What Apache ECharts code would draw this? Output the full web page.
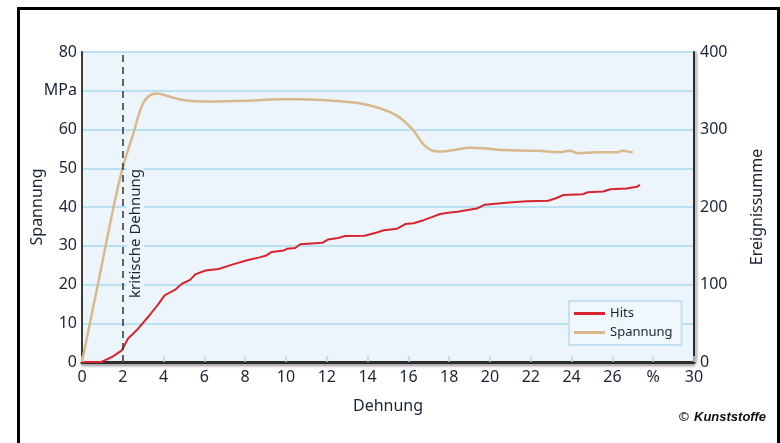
<!DOCTYPE html>
<html>
<head>
<meta charset="utf-8">
<script src="https://cdn.jsdelivr.net/npm/echarts@6/dist/echarts.min.js"></script>
<style>
  html, body { margin: 0; padding: 0; background: #fff; }
  #wrap { position: relative; width: 780px; height: 443px; overflow: hidden; }
  #chart { position: absolute; left: 0; top: 0; width: 780px; height: 443px; }
  #frame { position: absolute; left: 17px; top: 7px; width: 763px; height: 460px;
           box-sizing: border-box; border: 3px solid #000; pointer-events: none; }
</style>
</head>
<body>
<div id="wrap">
  <div id="chart"></div>
  <div id="frame"></div>
</div>
<script>
// Strain axis (Dehnung, %) tick labels; 28 is shown as the unit sign
const xTickLabels = ['0', '2', '4', '6', '8', '10', '12', '14', '16', '18', '20', '22', '24', '26', '%', '30'];
// Stress axis (Spannung) tick labels; 70 is shown as the unit
const stressTickLabels = ['0', '10', '20', '30', '40', '50', '60', 'MPa', '80'];
// Cumulative event axis (Ereignissumme) tick labels
const hitsTickLabels = ['0', '100', '200', '300', '400'];

// Critical strain marker
const criticalStrain = 2;

// Hits: cumulative acoustic emission events vs. strain
const hitsStrain = [0, 0.5, 0.95, 1.5, 1.95, 2.25, 2.75, 3.3, 3.75, 4.05, 4.55, 4.9, 5.3, 5.55, 6.05, 6.7, 7.4, 8.05, 8.7, 9.0, 9.3, 9.9, 10.05, 10.45, 10.7, 11.8, 12.05, 12.55, 12.9, 13.85, 14.45, 14.8, 15.45, 15.85, 16.25, 16.75, 17.15, 17.55, 18.05, 18.4, 19.35, 19.75, 20.8, 21.8, 22.85, 23.2, 23.6, 24.55, 24.8, 25.55, 25.9, 26.7, 27.2, 27.35];
const hitsValues = [0, 0, 0, 7, 15, 30, 43, 60, 75, 86, 93, 101, 106, 113, 118, 120, 126, 131, 135, 137, 142, 144, 146, 147, 152, 154, 158, 160, 162.5, 163, 167, 170, 172, 178, 179, 183, 187, 191, 193, 194, 198, 203, 205.5, 207.5, 208, 211, 215.5, 216.5, 219, 220, 223, 224, 226, 228.5];

// Spannung: stress vs. strain
const stressStrain = [0, 0.8, 1.62, 2.03, 2.52, 2.92, 3.25, 3.66, 4.23, 4.97, 6.1, 8.1, 9.7, 10.7, 11.5, 12.3, 13.6, 14.6, 15.4, 15.9, 16.3, 16.7, 17.1, 17.55, 18.2, 19.0, 19.8, 20.6, 22.3, 23.4, 23.9, 24.3, 25.2, 26.2, 26.5, 27.0];
const stressValues = [0, 20.6, 41.8, 50.8, 59, 65.9, 68.5, 69.3, 68.6, 67.6, 67.2, 67.4, 67.8, 67.8, 67.7, 67.4, 66.8, 65.5, 63.7, 61.6, 59.4, 56.4, 54.7, 54.3, 54.7, 55.3, 55.1, 54.7, 54.5, 54.1, 54.5, 53.9, 54.1, 54.1, 54.5, 54.1];

const pairs = (xs, ys) => xs.map((x, i) => [x, ys[i]]);

const FONT = '"Noto Sans", "Open Sans", sans-serif';
const TEXT = '#1b2336';
const PLOT_BG = '#EDF5FC';
const GRID_LINE = '#A8D9F1';

const chart = echarts.init(document.getElementById('chart'), null, { renderer: 'canvas' });

chart.setOption({
  animation: false,
  textStyle: { fontFamily: FONT },
  grid: {
    left: 82, right: 86, top: 52, bottom: 81,
    show: true, backgroundColor: PLOT_BG, borderWidth: 0,
    containLabel: false
  },
  title: {
    text: '{c|©} {k|Kunststoffe}',
    right: 9, bottom: 12,
    textStyle: {
      rich: {
        c: { fontSize: 13, color: '#333', fontFamily: FONT },
        k: { fontSize: 13, fontWeight: 'bold', fontStyle: 'italic', color: '#111', fontFamily: '"Liberation Sans", Arial, sans-serif' }
      }
    }
  },
  legend: {
    data: ['Hits', 'Spannung'],
    orient: 'vertical',
    left: 569, top: 301,
    padding: [6, 9, 6, 5],
    itemGap: 6,
    itemWidth: 31, itemHeight: 3,
    icon: 'rect',
    backgroundColor: '#F0F7FD',
    borderColor: '#C4E1F3',
    borderWidth: 2,
    textStyle: { fontSize: 13, color: TEXT, fontFamily: FONT }
  },
  xAxis: {
    type: 'value',
    min: 0, max: 30, interval: 2,
    name: 'Dehnung',
    nameLocation: 'middle',
    nameGap: 36,
    nameTextStyle: { fontSize: 16, color: TEXT },
    axisLine: { show: true, onZero: false, lineStyle: { color: '#2e2e2e', width: 3, shadowColor: 'rgba(0,0,0,0.45)', shadowBlur: 3, shadowOffsetY: 2 } },
    axisTick: { show: true, inside: true, length: 6, lineStyle: { color: GRID_LINE, width: 1.5 } },
    axisLabel: {
      margin: 7, fontSize: 16, color: TEXT,
      formatter: v => xTickLabels[Math.round(v / 2)]
    },
    splitLine: { show: false }
  },
  yAxis: [
    {
      type: 'value',
      min: 0, max: 80, interval: 10,
      name: 'Spannung',
      nameLocation: 'middle',
      nameRotate: 90,
      nameGap: 37,
      nameMoveOverlap: false,
      nameTextStyle: { fontSize: 16, color: TEXT },
      axisLine: { show: true, lineStyle: { color: '#3a3a3a', width: 2 } },
      axisTick: { show: false },
      axisLabel: {
        margin: 5, fontSize: 16, color: TEXT,
        formatter: v => stressTickLabels[Math.round(v / 10)]
      },
      splitLine: { show: true, lineStyle: { color: GRID_LINE, width: 1.5 } }
    },
    {
      type: 'value',
      position: 'right',
      min: 0, max: 400, interval: 100,
      name: 'Ereignissumme',
      nameLocation: 'middle',
      nameRotate: 90,
      nameGap: 55,
      nameTextStyle: { fontSize: 16, color: TEXT },
      axisLine: { show: true, lineStyle: { color: '#2e2e2e', width: 2, shadowColor: 'rgba(0,0,0,0.45)', shadowBlur: 3, shadowOffsetX: 2 } },
      axisTick: { show: false },
      axisLabel: {
        margin: 6, fontSize: 16, color: TEXT,
        formatter: v => hitsTickLabels[Math.round(v / 100)]
      },
      splitLine: { show: false }
    }
  ],
  series: [
    {
      name: 'Hits',
      type: 'line',
      yAxisIndex: 1,
      data: pairs(hitsStrain, hitsValues),
      showSymbol: false,
      symbol: 'none',
      smooth: false,
      lineStyle: { color: '#D7242E', width: 2 },
      itemStyle: { color: '#D7242E' },
      z: 3
    },
    {
      name: 'Spannung',
      type: 'line',
      yAxisIndex: 0,
      data: pairs(stressStrain, stressValues),
      showSymbol: false,
      symbol: 'none',
      smooth: 0.4,
      lineStyle: { color: '#D9B98C', width: 2.5 },
      itemStyle: { color: '#D9B98C' },
      z: 4,
      markLine: {
        silent: true,
        symbol: ['none', 'none'],
        lineStyle: { color: '#333', type: [7, 5], width: 1.5 },
        label: {
          show: true,
          position: 'insideStartBottom',
          distance: 4,
          formatter: '{gap|}{t|kritische Dehnung}',
          rich: {
            gap: { width: 56 },
            t: { fontSize: 15, color: TEXT, backgroundColor: PLOT_BG, padding: [1, 4], fontFamily: FONT }
          }
        },
        data: [{ xAxis: criticalStrain }]
      }
    }
  ]
});
</script>
</body>
</html>
